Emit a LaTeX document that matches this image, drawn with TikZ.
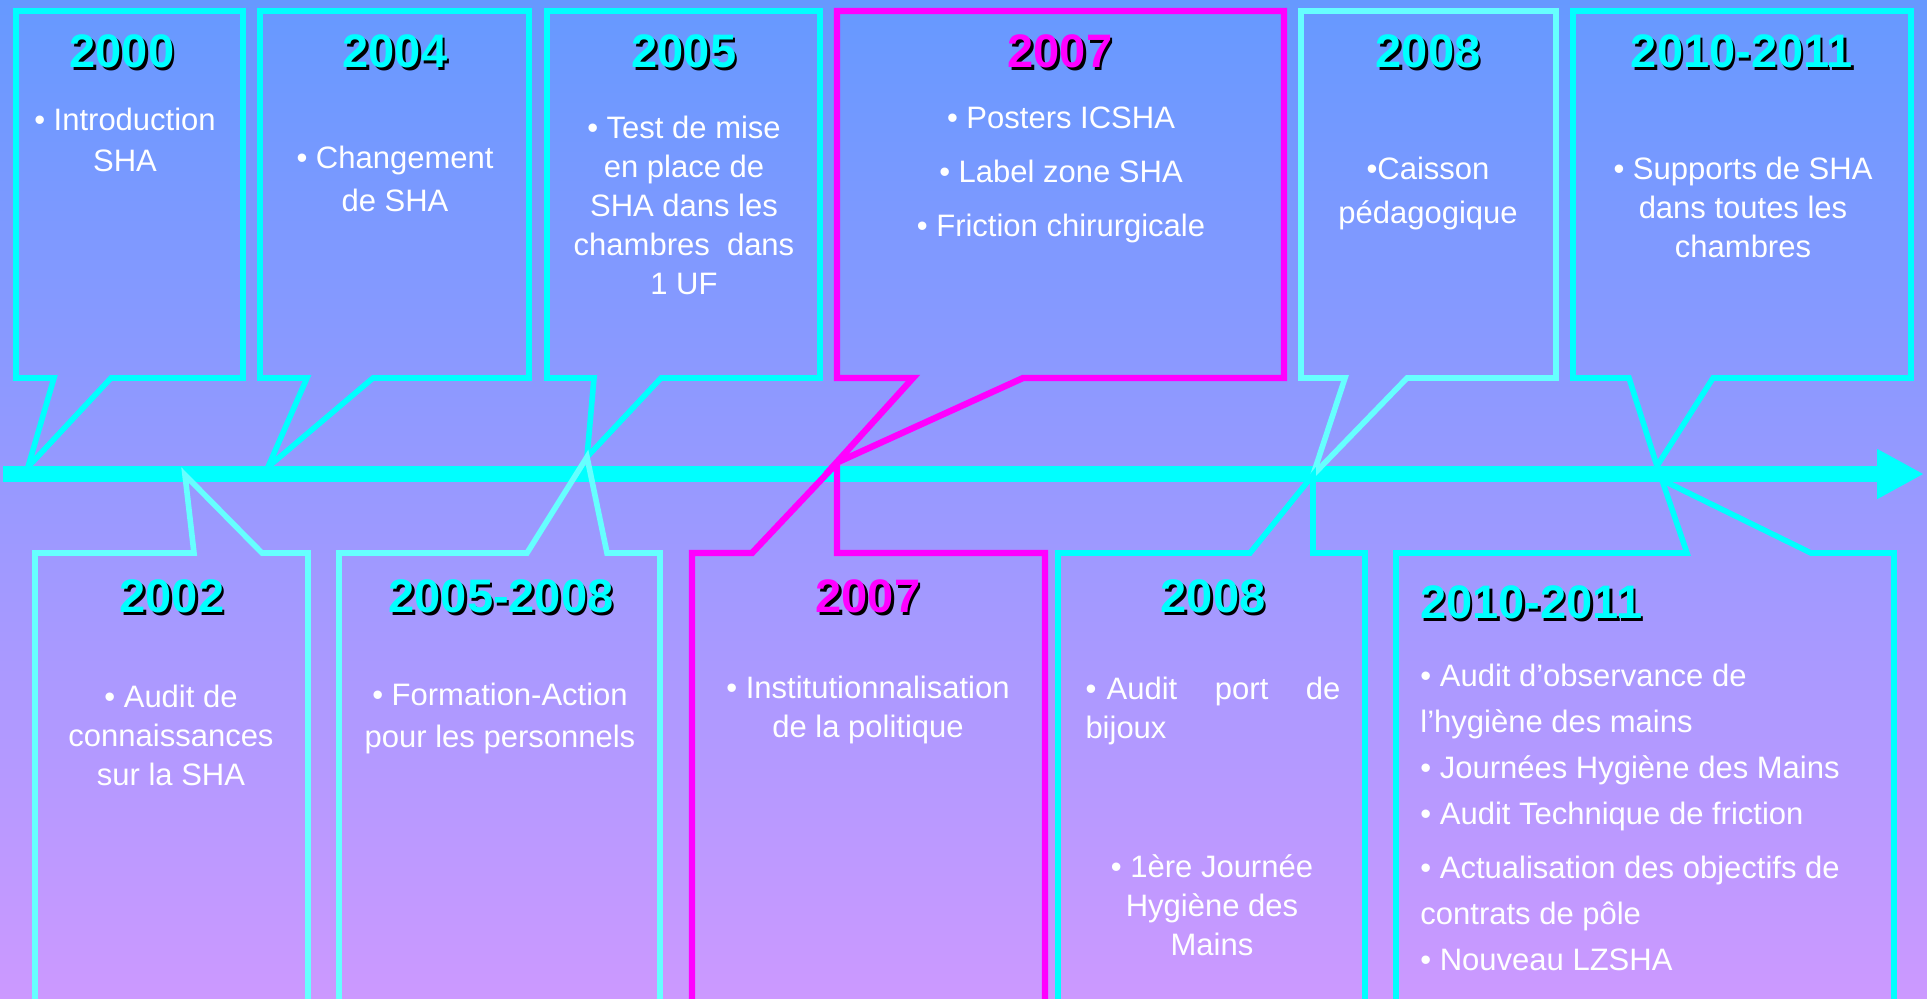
\documentclass[tikz,border=0pt]{standalone}
\usepackage{fontspec}
\setmainfont{Liberation Sans}
\usetikzlibrary{arrows.meta}

\definecolor{aqua}{RGB}{0,255,255}
\definecolor{paleaqua}{RGB}{102,255,255}
\definecolor{fuchsia}{RGB}{255,0,255}
\definecolor{bgtop}{RGB}{102,153,255}
\definecolor{bgbot}{RGB}{204,153,255}

% year with a small black shadow
\newcommand{\shadowyear}[1]{\rlap{\kern1.2pt\raisebox{-1.2pt}{\textcolor{black}{#1}}}#1}

\tikzset{
    year/.style={inner sep=0pt, text=aqua, font=\fontsize{23.5}{28}\selectfont\bfseries},
    pinkyear/.style={year, text=fuchsia},
    txt/.style={inner sep=0pt, text=white, align=center, font=\fontsize{15.5}{#1}\selectfont},
    txt/.default=19.5,
    yearbox/.style={draw=aqua, line width=2.8pt},
    palebox/.style={yearbox, draw=paleaqua},
    pinkbox/.style={yearbox, draw=fuchsia, line width=3.2pt},
}

\begin{document}
\begin{tikzpicture}[x=0.5pt,y=-0.5pt]
    \useasboundingbox (0,0) rectangle (1927,998);
    \clip (0,0) rectangle (1927,998);
    \shade[top color=bgtop, bottom color=bgbot] (0,0) rectangle (1927,998);

    % time line
    \draw[aqua, line width=8.3pt, -{Triangle[length=23.5pt,width=23.5pt]}] (3,474) -- (1924,474);

    % upper boxes
    \draw[yearbox] (16,11) -- (243,11) -- (243,378) -- (111,378) -- (28,467) -- (54,378) -- (16,378) -- cycle; %2000
    \draw[yearbox] (260,11) -- (529,11) -- (529,378) -- (373,378) -- (268,467) -- (307,378) -- (260,378) -- cycle; %2004
    \draw[yearbox] (547,11) -- (820,11) -- (820,378) -- (661,378) -- (587,457) -- (594,378) -- (547,378) -- cycle; %2005
    \draw[pinkbox] (837,11) -- (1284,11) -- (1284,378) -- (1023,378) -- (836,463) -- (913,378) -- (837,378) -- cycle; %2007
    \draw[palebox] (1301,11) -- (1556,11) -- (1556,378) -- (1407,378) -- (1313,475) -- (1345,378) -- (1301,378) -- cycle; %2008
    \draw[yearbox] (1573,11) -- (1911,11) -- (1911,378) -- (1713,378) -- (1657,466) -- (1629,378) -- (1573,378) -- cycle; %2010-2011

    % lower boxes (cut by the bottom edge)
    \draw[palebox] (35,1010) -- (35,553) -- (194,553) -- (185,475) -- (262,553) -- (308,553) -- (308,1010); %2002
    \draw[palebox] (339,1010) -- (339,553) -- (527,553) -- (587,457) -- (607,553) -- (660,553) -- (660,1010); %2005-2008
    \draw[pinkbox] (692,1010) -- (692,553) -- (752,553) -- (837,463) -- (837,553) -- (1045,553) -- (1045,1010); %2007
    \draw[yearbox] (1058,1010) -- (1058,553) -- (1250,553) -- (1313,475) -- (1313,553) -- (1365,553) -- (1365,1010); %2008
    \draw[yearbox] (1396,1010) -- (1396,553) -- (1687,553) -- (1662,480) -- (1811,553) -- (1894,553) -- (1894,1010); %2010-2011

    % years above the line
    \node[year] (y2000) at (122,53) {\shadowyear{2000}};
    \node[year] (y2004) at (395,53) {\shadowyear{2004}};
    \node[year] (y2005) at (684,53) {\shadowyear{2005}};
    \node[pinkyear] (y2007) at (1060,53) {\shadowyear{2007}};
    \node[year] (y2008) at (1428,53) {\shadowyear{2008}};
    \node[year] (y2010) at (1742,53) {\shadowyear{2010-2011}};

    \node[txt=20.5] (t2000) at (125,140) {• Introduction\\SHA};
    \node[txt=21.5] (t2004) at (395,179) {• Changement\\de SHA};
    \node[txt] (t2005) at (684,205) {• Test de mise\\en place de\\SHA dans les\\chambres \ dans\\1 UF};
    \node[txt=27] (t2007) at (1061,175) {• Posters ICSHA\\• Label zone SHA\\• Friction chirurgicale};
    \node[txt=22] (t2008) at (1428,193) {•Caisson\\pédagogique};
    \node[txt] (t2010) at (1743,207) {• Supports de SHA\\dans toutes les\\chambres};

    % years below the line
    \node[year] (y2002) at (172,598) {\shadowyear{2002}};
    \node[year] (y2005b) at (501,598) {\shadowyear{2005-2008}};
    \node[pinkyear] (y2007b) at (868,598) {\shadowyear{2007}};
    \node[year] (y2008b) at (1213,598) {\shadowyear{2008}};
    \node[year, anchor=west] (y2010b) at (1420,604) {\shadowyear{2010-2011}};

    \node[txt] (t2002) at (171,735) {• Audit de\\connaissances\\sur la SHA};
    \node[txt=21] (t2005b) at (500,718) {• Formation-Action\\pour les personnels};
    \node[txt] (t2007b) at (868,710) {• Institutionnalisation\\de la politique};
    \node[txt, align=left, text width=127.5pt] (t2008b) at (1213,711) {• Audit\hfill port\hfill de\\bijoux};
    \node[txt] (t2008c) at (1212,905) {• 1ère Journée\\Hygiène des\\Mains};
    \node[txt=23, align=left, anchor=west] (t2010b) at (1420,817) {• Audit d’observance de\\l’hygiène des mains\\• Journées Hygiène des Mains\\• Audit Technique de friction\\[4pt]• Actualisation des objectifs de\\contrats de pôle\\• Nouveau LZSHA};
\end{tikzpicture}
\end{document}
